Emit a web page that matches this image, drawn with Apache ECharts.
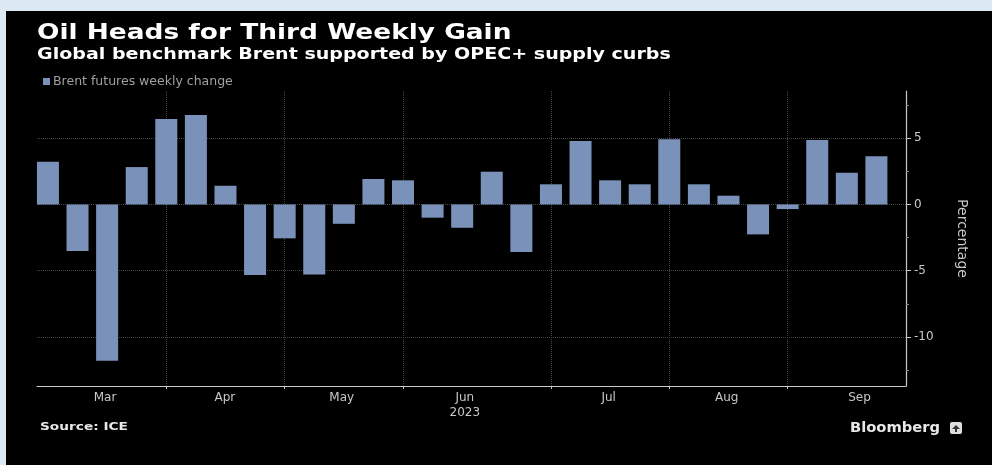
<!DOCTYPE html>
<html>
<head>
<meta charset="utf-8">
<script src="https://cdn.jsdelivr.net/npm/echarts@6/dist/echarts.min.js"></script>
<style>
  html, body { margin: 0; padding: 0; background: #dce9f5; }
  #chart { position: absolute; left: 6px; top: 11px; width: 986px; height: 454px; background: #000; }
</style>
</head>
<body>
<div id="chart"></div>
<script>
// weekly closes (Fridays) and Brent weekly % change
const weeks = [
  '2023-03-03', '2023-03-10', '2023-03-17', '2023-03-24', '2023-03-31',
  '2023-04-07', '2023-04-14', '2023-04-21', '2023-04-28',
  '2023-05-05', '2023-05-12', '2023-05-19', '2023-05-26',
  '2023-06-02', '2023-06-09', '2023-06-16', '2023-06-23', '2023-06-30',
  '2023-07-07', '2023-07-14', '2023-07-21', '2023-07-28',
  '2023-08-04', '2023-08-11', '2023-08-18', '2023-08-25',
  '2023-09-01', '2023-09-08', '2023-09-15'
];
const weeklyChange = [
  3.22, -3.52, -11.8, 2.82, 6.45, 6.75, 1.41, -5.33, -2.56,
  -5.28, -1.46, 1.92, 1.82, -1.0, -1.76, 2.47, -3.59, 1.52,
  4.78, 1.82, 1.52, 4.91, 1.52, 0.66, -2.26, -0.35, 4.86, 2.39, 3.63
];
const monthNames = ['Mar', 'Apr', 'May', 'Jun\n2023', 'Jul', 'Aug', 'Sep'];
const monthLabelAt = [1.93, 5.98, 9.93, 14.09, 18.95, 22.94, 27.43]; // in week index units
const yTicks = [-10, -5, 0, 5];
const yMinorTicks = [-12.5, -7.5, -2.5, 2.5, 7.5];

// month gridlines sit on the last week of each month
const monthEnds = [];
for (let i = 0; i < weeks.length - 1; i++) {
  if (weeks[i].slice(5, 7) !== weeks[i + 1].slice(5, 7)) monthEnds.push(i);
}

const chart = echarts.init(document.getElementById('chart'));
const txt = '#c8c8c8';

chart.setOption({
  backgroundColor: '#000',
  animation: false,
  legend: {
    left: 37, top: 64, padding: 0,
    icon: 'rect', itemWidth: 7, itemHeight: 7, itemGap: 4,
    textStyle: { color: '#a0a0a0', fontSize: 12.5, fontFamily: 'DejaVu Sans', padding: [0, 0, 0, -2] },
    data: ['Brent futures weekly change']
  },
  grid: { left: 31, right: 86, top: 80, bottom: 79, outerBoundsMode: 'none' },
  xAxis: {
    type: 'value',
    min: -0.37, max: 29,
    axisLine: { onZero: false, lineStyle: { color: txt, width: 1.2 } },
    axisTick: { customValues: monthEnds, length: 3, lineStyle: { color: txt } },
    axisLabel: {
      customValues: monthLabelAt,
      color: txt, fontSize: 12, fontFamily: 'DejaVu Sans', margin: 4, lineHeight: 15,
      formatter: v => monthNames[monthLabelAt.indexOf(v)] || ''
    },
    splitLine: { show: true, lineStyle: { color: '#444', type: 'dotted' } }
  },
  yAxis: [{
    type: 'value', position: 'right',
    min: -13.7, max: 8.56,
    name: 'Percentage', nameLocation: 'middle', nameGap: 49, nameRotate: -90,
    nameTextStyle: { color: txt, fontSize: 14, fontFamily: 'DejaVu Sans' },
    axisLine: { show: true, onZero: false, lineStyle: { color: txt, width: 1.2 } },
    axisTick: { show: true, customValues: yTicks, length: 5, lineStyle: { color: txt } },
    axisLabel: { customValues: yTicks, color: txt, fontSize: 12, fontFamily: 'DejaVu Sans', margin: 8 },
    splitLine: { show: true, lineStyle: { color: '#444', type: 'dotted' } }
  }, {
    // minor ticks, drawn on the right edge of the grid
    type: 'value', position: 'left', offset: -869,
    min: -13.7, max: 8.56,
    axisLine: { show: false },
    axisTick: { show: true, inside: true, customValues: yMinorTicks, length: 3, lineStyle: { color: '#888' } },
    axisLabel: { show: false },
    splitLine: { show: false }
  }],
  series: [{
    name: 'Brent futures weekly change',
    type: 'bar',
    barWidth: 22,
    itemStyle: { color: '#7a92ba' },
    data: weeklyChange.map((v, i) => [i, v])
  }],
  graphic: [
    { type: 'text', x: 31, y: 22, scaleX: 1.2,
      style: { text: 'Oil Heads for Third Weekly Gain', fill: '#fff', font: 'bold 22px "DejaVu Sans"', verticalAlign: 'middle' } },
    { type: 'text', x: 31, y: 44, scaleX: 1.27,
      style: { text: 'Global benchmark Brent supported by OPEC+ supply curbs', fill: '#fff', font: 'bold 15px "DejaVu Sans"', verticalAlign: 'middle' } },
    { type: 'text', x: 34, y: 416, scaleX: 1.37,
      style: { text: 'Source: ICE', fill: '#e8e8e8', font: 'bold 10px "DejaVu Sans"', verticalAlign: 'middle' } },
    { type: 'text', x: 844, y: 417, scaleX: 1.05,
      style: { text: 'Bloomberg', fill: '#e8e8e8', font: 'bold 14px "DejaVu Sans"', verticalAlign: 'middle' } },
    { type: 'rect', shape: { x: 944, y: 411, width: 12, height: 12, r: 2 }, style: { fill: '#ddd' } },
    { type: 'polygon', shape: { points: [[946, 418], [950, 414], [954, 418], [951, 418], [951, 421], [949, 421], [949, 418]] }, style: { fill: '#333' } }
  ]
});
</script>
</body>
</html>
